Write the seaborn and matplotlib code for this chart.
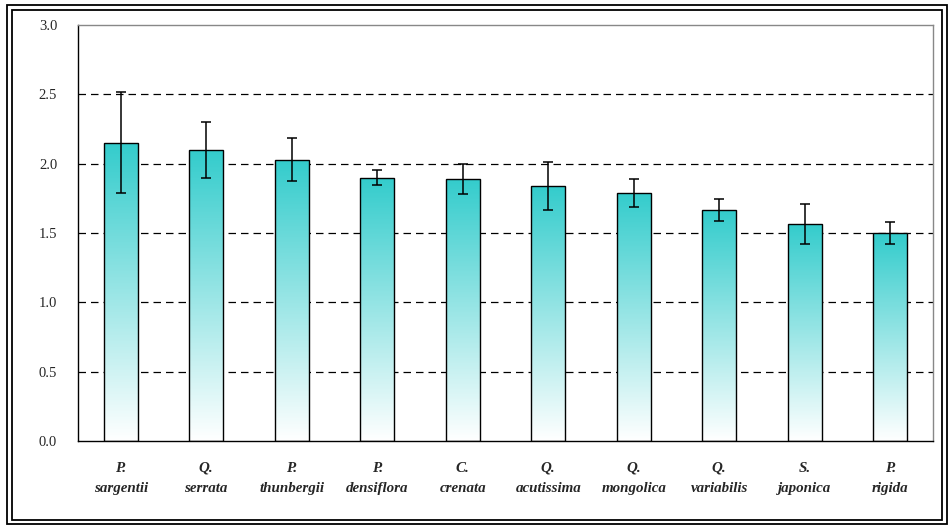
import numpy as np
import pandas as pd
import matplotlib
matplotlib.use("Agg")
import matplotlib.pyplot as plt
from matplotlib.patches import Rectangle
from matplotlib.colors import LinearSegmentedColormap
import seaborn as sns

# data
GENUS   = ['P.', 'Q.', 'P.', 'P.', 'C.', 'Q.', 'Q.', 'Q.', 'S.', 'P.']
SPECIES = ['sargentii', 'serrata', 'thunbergii', 'densiflora', 'crenata',
           'acutissima', 'mongolica', 'variabilis', 'japonica', 'rigida']
MEANS   = [2.15, 2.10, 2.03, 1.90, 1.89, 1.84, 1.79, 1.665, 1.565, 1.50]
ERRORS  = [0.365, 0.20, 0.155, 0.055, 0.11, 0.175, 0.10, 0.08, 0.145, 0.08]
Y_TICKS = [0.0, 0.5, 1.0, 1.5, 2.0, 2.5, 3.0]

TEAL = '#33CCCC'
SERIF = ['Liberation Serif', 'DejaVu Serif']

sns.set_style('white')
plt.rcParams['font.family'] = SERIF

labels = [f"{g}\n{s}" for g, s in zip(GENUS, SPECIES)]
df = pd.DataFrame({'species': labels, 'value': MEANS})

fig = plt.figure(figsize=(9.51, 5.27), dpi=100)
ax = fig.add_axes([78 / 951, 86 / 527, 855 / 951, 416 / 527])

sns.barplot(data=df, x='species', y='value', order=labels, width=0.4,
            color=TEAL, edgecolor='black', linewidth=1.0, errorbar=None,
            ax=ax, zorder=3)

# vertical gradient fill inside each bar (teal at top -> white at bottom)
cmap = LinearSegmentedColormap.from_list('tealfade', ['white', TEAL])
grad = np.linspace(0, 1, 256).reshape(-1, 1)
for p in ax.patches:
    x0, y0 = p.get_x(), p.get_y()
    w, h = p.get_width(), p.get_height()
    p.set_facecolor('none')
    im = ax.imshow(grad, cmap=cmap, origin='lower', aspect='auto',
                   extent=[x0, x0 + w, y0, y0 + h], zorder=2.5)
    im.set_clip_path(p)

ax.errorbar(range(len(MEANS)), MEANS, yerr=ERRORS, fmt='none',
            ecolor='black', elinewidth=1.1, capsize=3.5, capthick=1.1,
            zorder=4)

ax.set_xlim(-0.5, len(MEANS) - 0.5)
ax.set_ylim(0, 3.0)
ax.set_yticks(Y_TICKS)
ax.set_yticklabels([f"{t:.1f}" for t in Y_TICKS], fontsize=10.5)
ax.tick_params(axis='y', length=0, pad=15)

# category labels, ticks at category boundaries pointing inward
ax.set_xticks(range(len(labels)))
ax.set_xticklabels(labels, fontsize=10.8, fontweight='bold', style='italic',
                   linespacing=1.75)
ax.tick_params(axis='x', which='major', length=0, pad=15)
ax.set_xticks(np.arange(0.5, len(labels) - 1, 1.0), minor=True)
ax.tick_params(axis='x', which='minor', direction='in', length=4,
               width=1.0, color='black')
ax.set_xlabel('')
ax.set_ylabel('')

for y in Y_TICKS[1:-1]:
    ax.axhline(y, color='black', linestyle=(0, (6, 4)), linewidth=0.9,
               zorder=1)

for side in ['left', 'bottom']:
    ax.spines[side].set_color('black')
    ax.spines[side].set_linewidth(1.0)
for side in ['top', 'right']:
    ax.spines[side].set_color('#888888')
    ax.spines[side].set_linewidth(1.0)

# double frame around the whole chart
W, H = 951, 527
fig.patches.append(Rectangle((7 / W, 3 / H), 940 / W, 519 / H,
                             transform=fig.transFigure, fill=False,
                             edgecolor='black', linewidth=1.3))
fig.patches.append(Rectangle((12 / W, 7 / H), 930 / W, 510 / H,
                             transform=fig.transFigure, fill=False,
                             edgecolor='black', linewidth=1.3))

plt.savefig('out.png', dpi=100)
